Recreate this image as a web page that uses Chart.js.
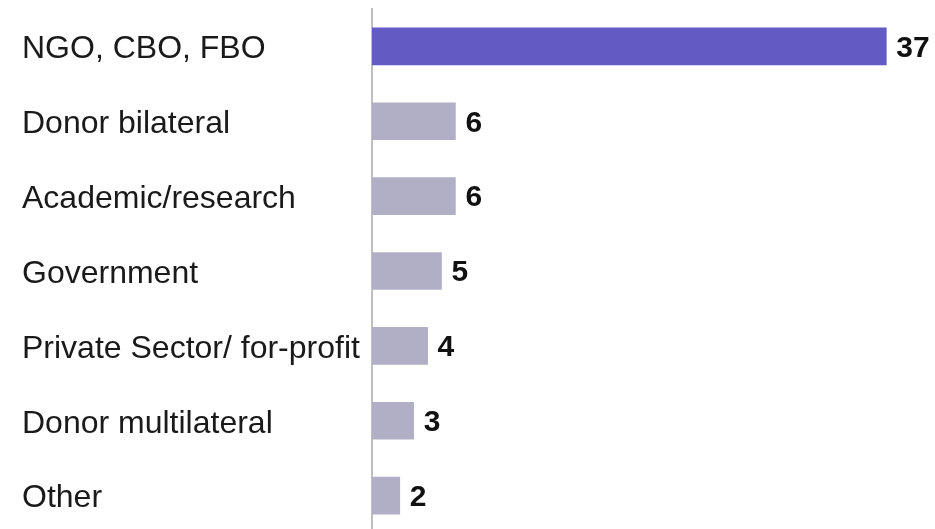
<!DOCTYPE html>
<html>
<head>
<meta charset="utf-8">
<script src="https://cdn.jsdelivr.net/npm/chart.js@4/dist/chart.umd.min.js"></script>
<style>
  html, body { margin: 0; padding: 0; background: #fff; overflow: hidden; }
  #wrap { width: 935px; height: 533px; }
</style>
</head>
<body>
<div id="wrap"><canvas id="myChart"></canvas></div>
<script>
const categories = ['NGO, CBO, FBO', 'Donor bilateral', 'Academic/research', 'Government',
    'Private Sector/ for-profit', 'Donor multilateral', 'Other'];
const counts = [37, 6, 6, 5, 4, 3, 2];
const barColors = ['#625bc3', '#b1afc6', '#b1afc6', '#b1afc6', '#b1afc6', '#b1afc6', '#b1afc6'];

// write the value right of each bar
const valueLabels = {
    id: 'valueLabels',
    afterDatasetsDraw(chart) {
        const ctx = chart.ctx;
        const meta = chart.getDatasetMeta(0);
        ctx.save();
        ctx.font = 'bold 30px "Liberation Sans", Arial, sans-serif';
        ctx.fillStyle = '#111';
        ctx.textAlign = 'left';
        ctx.textBaseline = 'middle';
        meta.data.forEach((bar, i) => {
            ctx.fillText(String(counts[i]), bar.x + 10, bar.y + 2);
        });
        ctx.restore();
    }
};

const ctx = document.getElementById('myChart').getContext('2d');

const myChart = new Chart(ctx, {
    type: 'bar',
    data: {
        labels: categories,
        datasets: [{
            data: counts,
            backgroundColor: barColors,
            barThickness: 37,
        }]
    },
    options: {
        indexAxis: 'y',
        responsive: true,
        maintainAspectRatio: false,
        animation: false,
        layout: {
            padding: { left: 22, right: 7, top: 9, bottom: 0 }
        },
        plugins: {
            legend: { display: false },
            tooltip: { enabled: false },
        },
        scales: {
            x: {
                display: false,
                min: 0,
                max: 40,
            },
            y: {
                grid: { display: false },
                border: { display: true, color: '#bfbfbf', width: 2 },
                ticks: {
                    crossAlign: 'far',
                    color: '#1a1a1a',
                    padding: 0,
                    labelOffset: 3,
                    font: { family: '"Liberation Sans", Arial, sans-serif', size: 32 },
                },
                afterFit: (axis) => {
                    axis.width = 350; // puts the axis line at x = 372
                    axis.paddingTop = 0;
                    axis.paddingBottom = 0;
                },
            }
        }
    },
    plugins: [valueLabels]
});
</script>
</body>
</html>
